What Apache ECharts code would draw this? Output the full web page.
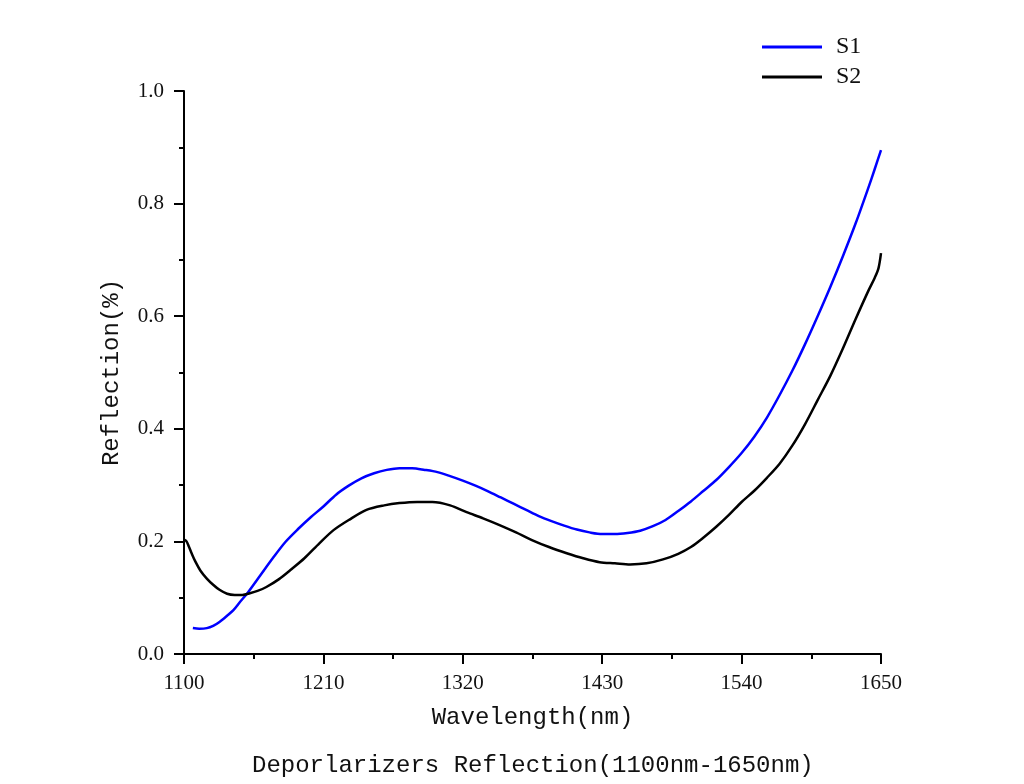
<!DOCTYPE html>
<html>
<head>
<meta charset="utf-8">
<script src="https://cdn.jsdelivr.net/npm/echarts@6/dist/echarts.min.js"></script>
<style>html,body{margin:0;padding:0;background:#fff}#c{width:1024px;height:784px}</style>
</head>
<body>
<div id="c"></div>
<script>
var xTicks = [1100, 1210, 1320, 1430, 1540, 1650];
var yTicks = [0.0, 0.2, 0.4, 0.6, 0.8, 1.0];

var s1X = [1107,1112,1118,1123,1128,1134,1139,1144,1150,1160,1170,1180,1190,1200,1210,1220,1230,1240,1250,1260,1270,1280,1290,1300,1310,1320,1330,1340,1350,1360,1370,1380,1390,1400,1410,1420,1430,1440,1450,1460,1470,1480,1490,1500,1510,1520,1530,1540,1550,1560,1570,1580,1590,1600,1610,1620,1630,1640,1645,1650];
var s1Y = [0.046,0.045,0.046,0.050,0.057,0.068,0.078,0.092,0.108,0.139,0.170,0.199,0.222,0.243,0.262,0.283,0.299,0.312,0.321,0.327,0.330,0.330,0.327,0.323,0.316,0.308,0.299,0.289,0.278,0.267,0.256,0.245,0.236,0.228,0.221,0.216,0.213,0.213,0.215,0.219,0.227,0.238,0.254,0.271,0.290,0.309,0.332,0.357,0.386,0.420,0.460,0.503,0.550,0.600,0.652,0.707,0.765,0.828,0.861,0.895];

var s2X = [1100,1102,1104,1106,1109,1113,1118,1123,1128,1134,1140,1146,1152,1158,1165,1175,1185,1195,1207,1218,1230,1244,1258,1270,1284,1296,1310,1323,1336,1349,1362,1375,1388,1402,1415,1428,1440,1452,1465,1478,1490,1500,1510,1520,1530,1540,1550,1560,1570,1580,1590,1600,1610,1620,1630,1640,1645,1648,1650];
var s2Y = [0.203,0.200,0.190,0.179,0.164,0.148,0.134,0.123,0.114,0.107,0.105,0.105,0.108,0.112,0.119,0.133,0.151,0.170,0.197,0.220,0.238,0.256,0.264,0.268,0.270,0.270,0.264,0.252,0.241,0.229,0.216,0.202,0.190,0.179,0.170,0.163,0.161,0.159,0.161,0.168,0.178,0.190,0.207,0.226,0.247,0.270,0.290,0.313,0.338,0.370,0.408,0.451,0.494,0.543,0.595,0.645,0.668,0.685,0.712];

function zip(a, b) { return a.map(function (v, i) { return [v, b[i]]; }); }

var serif = 'Liberation Serif';
var mono = 'Liberation Mono';
var chart = echarts.init(document.getElementById('c'));
chart.setOption({
  animation: false,
  backgroundColor: '#fff',
  title: {
    text: 'Deporlarizers Reflection(1100nm-1650nm)',
    left: 247,
    top: 749,
    textStyle: { fontFamily: mono, fontSize: 24, fontWeight: 'normal', color: '#111' }
  },
  legend: {
    orient: 'vertical',
    left: 757,
    top: 27,
    itemWidth: 60,
    itemHeight: 3,
    itemGap: 0,
    icon: 'rect',
    textStyle: { fontFamily: serif, fontSize: 24, color: '#111', lineHeight: 30, padding: [0, 0, 0, 9] },
    data: ['S1', 'S2']
  },
  grid: { left: 184, right: 143, top: 91, bottom: 130, containLabel: false },
  xAxis: {
    type: 'value',
    min: xTicks[0],
    max: xTicks[xTicks.length - 1],
    interval: 110,
    name: 'Wavelength(nm)',
    nameLocation: 'middle',
    nameGap: 52,
    nameTextStyle: { fontFamily: mono, fontSize: 24, color: '#111' },
    axisLine: { lineStyle: { color: '#000', width: 2 } },
    axisTick: { length: 10, lineStyle: { width: 2, color: '#000' } },
    minorTick: { show: true, splitNumber: 2, length: 5, lineStyle: { width: 2, color: '#000' } },
    splitLine: { show: false },
    axisLabel: { margin: 19, fontFamily: serif, fontSize: 21, color: '#111',
      formatter: function (v) { return String(v); } }
  },
  yAxis: {
    type: 'value',
    min: yTicks[0],
    max: yTicks[yTicks.length - 1],
    interval: 0.2,
    name: 'Reflection(%)',
    nameLocation: 'middle',
    nameGap: 60,
    nameTextStyle: { fontFamily: mono, fontSize: 24, color: '#111' },
    axisLine: { show: true, lineStyle: { color: '#000', width: 2 } },
    axisTick: { show: true, length: 10, lineStyle: { width: 2, color: '#000' } },
    minorTick: { show: true, splitNumber: 2, length: 5, lineStyle: { width: 2, color: '#000' } },
    splitLine: { show: false },
    axisLabel: { margin: 20, fontFamily: serif, fontSize: 21, color: '#111',
      formatter: function (v) { return v.toFixed(1); } }
  },
  series: [
    { name: 'S1', type: 'line', data: zip(s1X, s1Y), smooth: 0.3, showSymbol: false,
      lineStyle: { color: '#0000ff', width: 2.5 }, itemStyle: { color: '#0000ff' } },
    { name: 'S2', type: 'line', data: zip(s2X, s2Y), smooth: 0.3, showSymbol: false,
      lineStyle: { color: '#000000', width: 2.5 }, itemStyle: { color: '#000000' } }
  ]
});
</script>
</body>
</html>
